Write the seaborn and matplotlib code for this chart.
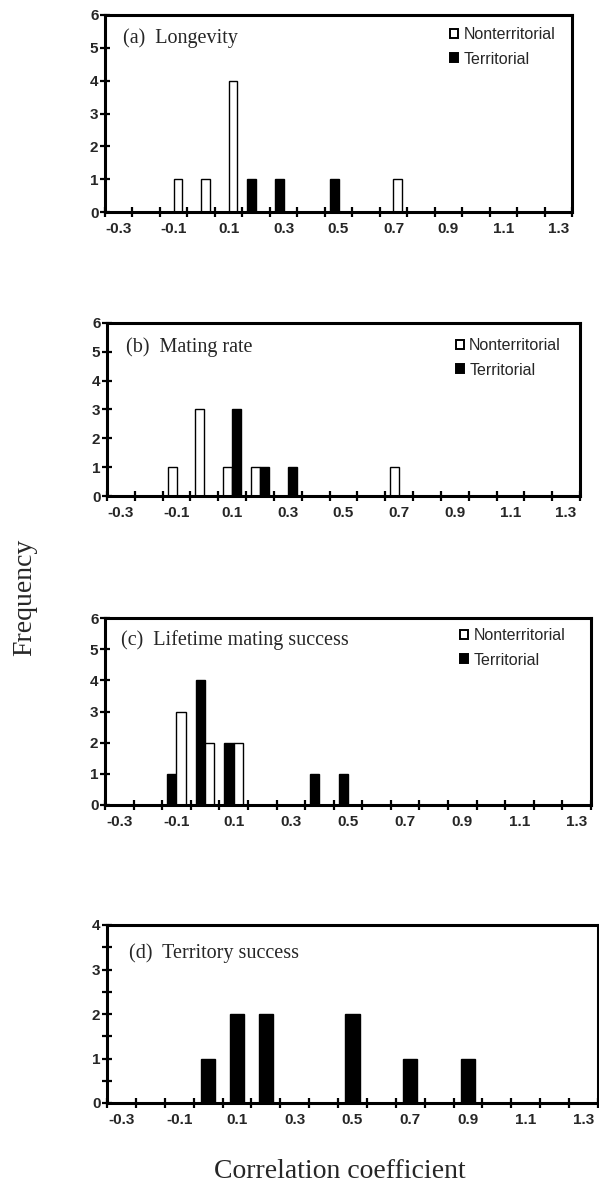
import numpy as np
import pandas as pd
import seaborn as sns
import matplotlib.pyplot as plt
import matplotlib.transforms as mtransforms
from matplotlib.patches import Patch

# category bins of the correlation coefficient
categories = ["-0.3", "-0.2", "-0.1", "0.0", "0.1", "0.2", "0.3", "0.4", "0.5",
              "0.6", "0.7", "0.8", "0.9", "1.0", "1.1", "1.2", "1.3"]
tick_labels = categories[::2]

# (a) Longevity
longevity_nonterr = [0, 0, 1, 1, 4, 0, 0, 0, 0, 0, 1, 0, 0, 0, 0, 0, 0]
longevity_terr = [0, 0, 0, 0, 0, 1, 1, 0, 1, 0, 0, 0, 0, 0, 0, 0, 0]
# (b) Mating rate
mating_nonterr = [0, 0, 1, 3, 1, 1, 0, 0, 0, 0, 1, 0, 0, 0, 0, 0, 0]
mating_terr = [0, 0, 0, 0, 3, 1, 1, 0, 0, 0, 0, 0, 0, 0, 0, 0, 0]
# (c) Lifetime mating success
lms_nonterr = [0, 0, 3, 2, 2, 0, 0, 0, 0, 0, 0, 0, 0, 0, 0, 0, 0]
lms_terr = [0, 0, 1, 4, 2, 0, 0, 1, 1, 0, 0, 0, 0, 0, 0, 0, 0]
# (d) Territory success (territorial only)
territory_terr = [0, 0, 0, 1, 2, 2, 0, 0, 2, 0, 1, 0, 1, 0, 0, 0, 0]

titles = ["(a)  Longevity", "(b)  Mating rate", "(c)  Lifetime mating success",
          "(d)  Territory success"]

sns.set_style("ticks")
plt.rcParams['font.family'] = ['Liberation Sans', 'DejaVu Sans']
serif = ['Liberation Serif', 'DejaVu Serif']

W, H = 599, 1194
fig = plt.figure(figsize=(W / 100, H / 100), dpi=100)
label_shift = mtransforms.ScaledTranslation(3 / 100, 0, fig.dpi_scale_trans)


def make_ax(x0, y0, x1, y1):
    return fig.add_axes([x0 / W, (H - y1) / H, (x1 - x0) / W, (y1 - y0) / H])


pal = {"Nonterritorial": "white", "Territorial": "black"}


def style_axis(ax, ymax, minor_y=False):
    ax.set_xlim(-0.5, len(categories) - 0.5)
    ax.set_ylim(0, ymax)
    ax.set_xlabel("")
    ax.set_ylabel("")
    ax.set_xticks(range(0, len(categories), 2))
    ax.set_xticklabels(tick_labels, fontsize=11, fontweight="bold")
    for lab in ax.get_xticklabels():
        lab.set_transform(lab.get_transform() + label_shift)
    ax.set_xticks(np.arange(-0.5, len(categories), 1), minor=True)
    ax.tick_params(axis="x", which="major", bottom=False, length=0, pad=7)
    ax.tick_params(axis="x", which="minor", bottom=True, length=7.5, width=1.6,
                   direction="inout", color="black")
    ax.set_yticks(range(0, ymax + 1))
    ax.set_yticklabels([str(v) for v in range(0, ymax + 1)], fontsize=11,
                       fontweight="bold")
    ax.tick_params(axis="y", which="major", left=True, length=7.5, width=1.6,
                   direction="inout", pad=1, color="black")
    if minor_y:
        ax.set_yticks(np.arange(0, ymax, 0.5), minor=True)
        ax.tick_params(axis="y", which="minor", left=True, length=7.5, width=1.6,
                       direction="inout", color="black")
    for s in ax.spines.values():
        s.set_visible(True)
        s.set_linewidth(2.2)
        s.set_color("black")


def pair_panel(ax, nonterr, terr, hue_order, title, title_off, leg_anchor):
    df = pd.DataFrame({
        "r": categories * 2,
        "count": nonterr + terr,
        "group": ["Nonterritorial"] * len(categories) + ["Territorial"] * len(categories),
    })
    sns.barplot(data=df, x="r", y="count", hue="group", order=categories,
                hue_order=hue_order, palette=pal, edgecolor="black", linewidth=1,
                width=0.64, saturation=1, errorbar=None, legend=False, ax=ax)
    style_axis(ax, 6)
    ax.annotate(title, xy=(0, 1), xycoords="axes fraction", xytext=title_off,
                textcoords="offset pixels", va="center", ha="left",
                fontsize=14.5, family=serif)
    handles = [Patch(facecolor="white", edgecolor="black", linewidth=1.4, label="Nonterritorial"),
               Patch(facecolor="black", edgecolor="black", linewidth=1.4, label="Territorial")]
    ax.legend(handles=handles, loc="upper right", bbox_to_anchor=leg_anchor,
              frameon=False, fontsize=11.5, handlelength=0.5, handleheight=0.5,
              handletextpad=0.35, labelspacing=0.6, borderpad=0, borderaxespad=0)


ax_a = make_ax(105, 15, 572, 212)
pair_panel(ax_a, longevity_nonterr, longevity_terr, ["Territorial", "Nonterritorial"],
           titles[0], (18, -23), (1 - 17 / 467, 1 - 12 / 197))

ax_b = make_ax(107, 323, 580, 496)
pair_panel(ax_b, mating_nonterr, mating_terr, ["Nonterritorial", "Territorial"],
           titles[1], (19, -24), (1 - 19 / 473, 1 - 15 / 173))

ax_c = make_ax(105, 618, 591, 805)
pair_panel(ax_c, lms_nonterr, lms_terr, ["Territorial", "Nonterritorial"],
           titles[2], (16, -22), (1 - 26 / 486, 1 - 10 / 187))

ax_d = make_ax(107, 925, 598, 1103)
sns.barplot(x=categories, y=territory_terr, order=categories, color="black",
            edgecolor="black", linewidth=1, width=0.5, saturation=1,
            errorbar=None, ax=ax_d)
style_axis(ax_d, 4, minor_y=True)
ax_d.annotate(titles[3], xy=(0, 1), xycoords="axes fraction", xytext=(22, -28),
              textcoords="offset pixels", va="center", ha="left",
              fontsize=14.5, family=serif)

fig.text(25 / W, 1 - 597 / H, "Frequency", rotation=90, ha="center", va="center",
         fontsize=20, family=serif)
fig.text(340 / W, 1 - 1171 / H, "Correlation coefficient", ha="center", va="center",
         fontsize=20, family=serif)

fig.savefig("out.png", dpi=100)
